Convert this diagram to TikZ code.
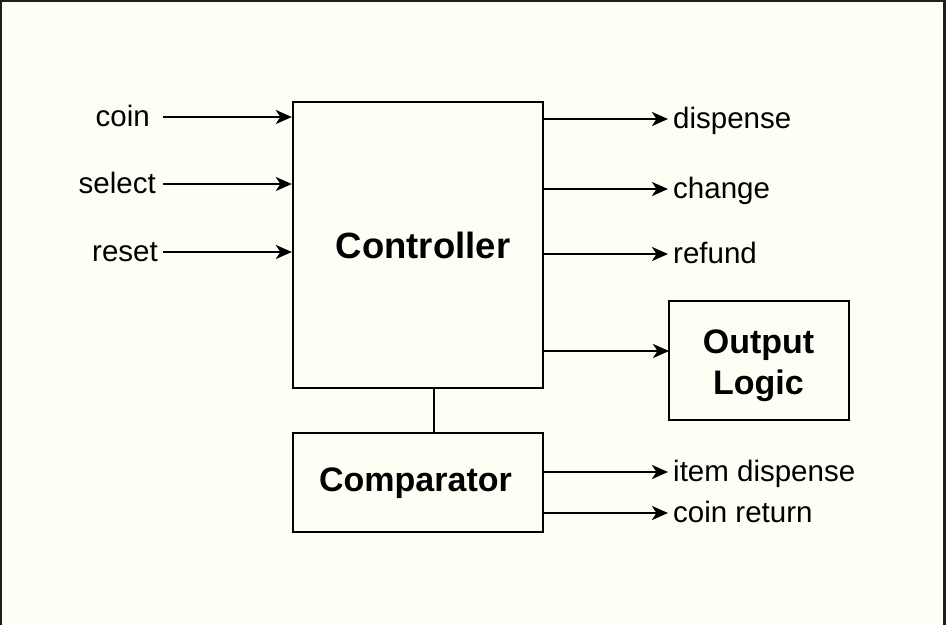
\documentclass[tikz,border=0pt]{standalone}
\usepackage{fontspec}
\setmainfont{Liberation Sans}
\usetikzlibrary{arrows.meta}
\definecolor{paper}{HTML}{FEFEF5}
\definecolor{frame}{HTML}{1E1E1E}
\tikzstyle{block} = [rectangle, draw, line width=2.3pt, text centered]
\tikzstyle{title} = [font=\bfseries\fontsize{34}{41}\selectfont]
\tikzstyle{signal} = [inner ysep=0pt, inner xsep=5pt, text height=18pt, text depth=0pt, font=\fontsize{29.5}{34}\selectfont]
\tikzstyle{connector} = [draw, line width=2.3pt, -{Stealth[length=16pt, width=14pt, inset=4.5pt]}]

\begin{document}
\begin{tikzpicture}[x=1pt, y=-1pt, align=center]
            \fill[paper] (0,0) rectangle (946,625);
            \fill[frame] (0,0) rectangle (2,625);
            \fill[frame] (0,0) rectangle (946,1.5);
            \fill[frame] (943,0) rectangle (946,625);

            \node[block, minimum width=250pt, minimum height=286pt] (controller) at (418,245) {};
            \node[title, font=\bfseries\fontsize{36.5}{41}\selectfont] (ctrltext) at (423,245) {Controller};
            \node[block, minimum width=250pt, minimum height=99pt] (comparator) at (418,482.5) {};
            \node[title] (comptext) at (415.5,483) {Comparator};
            \node[block, minimum width=180pt, minimum height=119pt] (outlogic) at (759,360.5) {};
            \node[title] (logictext) at (758.5,366) {Output\\Logic};

            \node[signal, anchor=east, inner xsep=13pt] (coin) at (163,117) {coin};
            \node[signal, anchor=east, inner xsep=7pt] (select) at (163,184) {select};
            \node[signal, anchor=east] (reset) at (163,252) {reset};

            \node[signal, anchor=west] (dispense) at (668,119) {dispense};
            \node[signal, anchor=west] (change) at (668,189) {change};
            \node[signal, anchor=west] (refund) at (668,254) {refund};
            \node[signal, anchor=west] (itemdisp) at (668,472) {item dispense};
            \node[signal, anchor=west] (coinret) at (668,513) {coin return};
            \coordinate (tologic) at (669,351);

            \draw[connector] (coin) -- (coin -| controller.west);
            \draw[connector] (select) -- (select -| controller.west);
            \draw[connector] (reset) -- (reset -| controller.west);

            \draw[connector] (dispense -| controller.east) -- (dispense);
            \draw[connector] (change -| controller.east) -- (change);
            \draw[connector] (refund -| controller.east) -- (refund);
            \draw[connector] (tologic -| controller.east) -- (tologic);

            \draw[line width=2.3pt] ([xshift=16pt]controller.south) -- ([xshift=16pt]comparator.north);

            \draw[connector] (itemdisp -| comparator.east) -- (itemdisp);
            \draw[connector] (coinret -| comparator.east) -- (coinret);
        \end{tikzpicture}
\end{document}
